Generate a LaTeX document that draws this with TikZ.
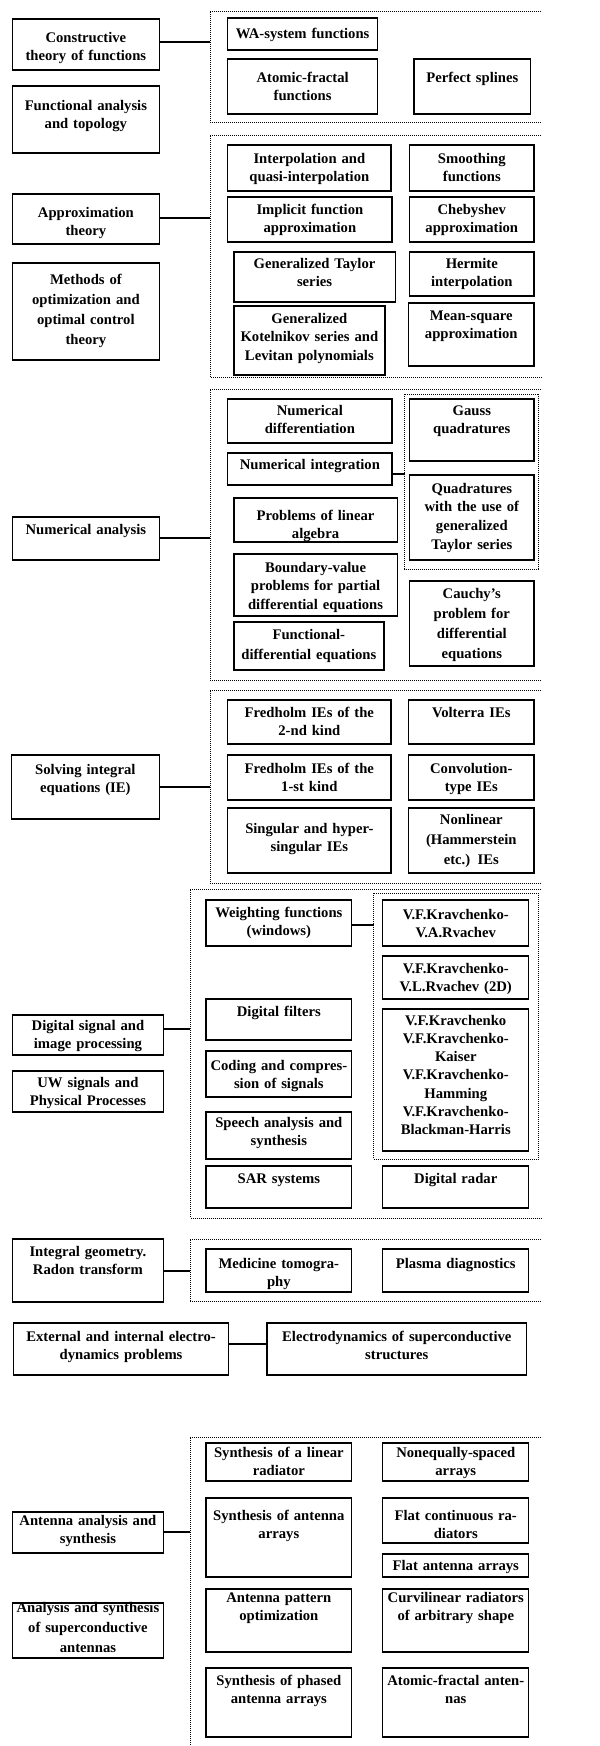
\documentclass[tikz,border=0pt]{standalone}
\usepackage{fontspec}
\setmainfont{Liberation Serif}
\usetikzlibrary{fit}
\tikzset{
  boxst/.style={draw, line width=1pt, inner sep=0pt, rectangle},
  txt/.style={anchor=base, text width=190pt, align=center, inner sep=0pt,
    font=\fontsize{11pt}{14.2pt}\selectfont\bfseries},
  wide/.style={font=\fontsize{11pt}{15.2pt}\selectfont\bfseries},
  tight/.style={font=\fontsize{11pt}{13.7pt}\selectfont\bfseries},
  dotframe/.style={line width=0.75pt, dash pattern=on 0.75pt off 0.75pt},
  conn/.style={line width=0.9pt},
}
\newcommand\bx[8][]{%
  \node[boxst, fit={(#3,#4) (#5,#6)}] (#2) {};
  \node[txt,#1] (#2-t) at ({(#3+#5)/2},#7) {#8};
}
\begin{document}
\begin{tikzpicture}[x=0.776pt,y=-0.75pt]
\useasboundingbox (0,0) rectangle (579.7,1746);
% ---------------- dotted frames
\draw[dotframe] (523,11) -- (203,11) -- (203,122) -- (523,122);
\draw[dotframe] (523,135) -- (203,135) -- (203,377) -- (523,377);
\draw[dotframe] (523,389) -- (203,389) -- (203,680) -- (523,680);
\draw[dotframe] (391,394) rectangle (520,569);
\draw[dotframe] (523,690) -- (203,690) -- (203,883) -- (523,883);
\draw[dotframe] (523,889) -- (184,889) -- (184,1218) -- (523,1218);
\draw[dotframe] (361,893) rectangle (520,1159);
\draw[dotframe] (523,1239) -- (184,1239) -- (184,1301) -- (523,1301);
\draw[dotframe] (523,1437) -- (184,1437) -- (184,1746);
% ---------------- left column
\bx{const}{12}{19}{154}{70}{42}{Constructive\\theory of functions}
\bx{funan}{12}{86}{154}{153}{110}{Functional analysis\\and topology}
\bx{approx}{12}{194}{154}{244}{217}{Approximation\\theory}
\bx[wide]{optim}{12}{263}{154}{360}{284}{Methods of\\optimization and\\optimal control\\theory}
\bx{numan}{12}{517}{154}{560}{534}{Numerical analysis}
\bx{solve}{11}{755}{154}{819}{774}{Solving integral\\equations (IE)}
\bx{dsp}{12}{1015}{158}{1055}{1030}{Digital signal and\\image processing}
\bx{uw}{12}{1071}{158}{1112}{1087}{UW signals and\\Physical Processes}
\bx{radon}{12}{1239}{158}{1302}{1256}{Integral geometry.\\Radon transform}
\bx{extint}{13}{1323}{221}{1375}{1341}{External and internal electro-\\dynamics problems}
\bx{elsup}{258}{1323}{509}{1375}{1341}{Electrodynamics of superconductive\\structures}
\bx{antsyn}{12}{1512}{158}{1553}{1525}{Antenna analysis and\\synthesis}
\bx[wide]{supant}{12}{1603}{158}{1658}{1612}{Analysis and synthesis\\of superconductive\\antennas}
% ---------------- group 1
\bx{wa}{220}{18}{365}{50}{38}{WA-system functions}
\bx{atfr}{220}{59}{365}{114}{82}{Atomic-fractal\\functions}
\bx{perf}{400}{59}{513}{114}{82}{Perfect splines}
% ---------------- group 2
\bx{interp}{220}{145}{378}{191}{163}{Interpolation and\\quasi-interpolation}
\bx{smooth}{396}{145}{516}{191}{163}{Smoothing\\functions}
\bx{implic}{220}{197}{379}{242}{214}{Implicit function\\approximation}
\bx{cheb}{396}{197}{516}{242}{214}{Chebyshev\\approximation}
\bx{gtaylor}{226}{252}{382}{302}{268}{Generalized Taylor\\series}
\bx{hermite}{396}{252}{516}{296}{268}{Hermite\\interpolation}
\bx{kotel}{226}{306}{372}{375}{323}{Generalized\\Kotelnikov series and\\Levitan polynomials}
\bx{mean}{395}{303}{516}{366}{320}{Mean-square\\approximation}
% ---------------- group 3
\bx{numdiff}{220}{399}{379}{443}{415}{Numerical\\differentiation}
\bx{gauss}{396}{399}{516}{461}{415}{Gauss\\quadratures}
\bx{numint}{220}{453}{379}{485}{469}{Numerical integration}
\bx{quad}{396}{475}{516}{560}{493}{Quadratures\\with the use of\\generalized\\Taylor series}
\bx{linalg}{226}{498}{384}{542}{520}{Problems of linear\\algebra}
\bx{bvp}{226}{554}{384}{616}{572}{Boundary-value\\problems for partial\\differential equations}
\bx[wide]{cauchy}{396}{581}{516}{666}{598}{Cauchy’s\\problem for\\differential\\equations}
\bx[wide]{fde}{226}{622}{371}{670}{639}{Functional-\\differential equations}
% ---------------- group 4
\bx{fr2}{220}{700}{378}{744}{717}{Fredholm IEs of the\\2-nd kind}
\bx{volt}{395}{700}{516}{744}{717}{Volterra IEs}
\bx{fr1}{220}{755}{378}{800}{773}{Fredholm IEs of the\\1-st kind}
\bx{conv}{395}{755}{516}{800}{773}{Convolution-\\type IEs}
\bx{sing}{220}{808}{378}{873}{833}{Singular and hyper-\\singular IEs}
\bx[wide]{nonlin}{395}{808}{516}{873}{824}{Nonlinear\\(Hammerstein\\etc.) IEs}
% ---------------- group 5
\bx{weight}{199}{900}{340}{946}{917}{Weighting functions\\(windows)}
\bx{kr1}{370}{900}{511}{946}{919}{V.F.Kravchenko-\\V.A.Rvachev}
\bx{kr2}{370}{956}{511}{999}{973}{V.F.Kravchenko-\\V.L.Rvachev (2D)}
\bx{filt}{199}{999}{340}{1040}{1016}{Digital filters}
\bx[tight]{kr3}{370}{1009}{511}{1151}{1025}{V.F.Kravchenko\\V.F.Kravchenko-\\Kaiser\\V.F.Kravchenko-\\Hamming\\V.F.Kravchenko-\\Blackman-Harris}
\bx{coding}{199}{1051}{340}{1097}{1070}{Coding and compres-\\sion of signals}
\bx{speech}{199}{1112}{340}{1159}{1127}{Speech analysis and\\synthesis}
\bx{sar}{199}{1166}{340}{1208}{1183}{SAR systems}
\bx{radar}{370}{1166}{511}{1208}{1183}{Digital radar}
% ---------------- group 6
\bx{medtom}{199}{1249}{340}{1292}{1268}{Medicine tomogra-\\phy}
\bx{plasma}{370}{1249}{511}{1292}{1268}{Plasma diagnostics}
% ---------------- group 7
\bx{linrad}{199}{1443}{340}{1481}{1457}{Synthesis of a linear\\radiator}
\bx{noneq}{370}{1443}{511}{1481}{1457}{Nonequally-spaced\\arrays}
\bx{antarr}{199}{1498}{340}{1577}{1520}{Synthesis of antenna\\arrays}
\bx{flatc}{370}{1498}{511}{1543}{1520}{Flat continuous ra-\\diators}
\bx{flata}{370}{1554}{511}{1577}{1570}{Flat antenna arrays}
\bx{pattern}{199}{1589}{340}{1652}{1602}{Antenna pattern\\optimization}
\bx{curv}{370}{1589}{511}{1652}{1602}{Curvilinear radiators\\of arbitrary shape}
\bx{phased}{199}{1668}{340}{1737}{1685}{Synthesis of phased\\antenna arrays}
\bx{atant}{370}{1668}{511}{1737}{1685}{Atomic-fractal anten-\\nas}
% ---------------- connectors
\coordinate (c1) at (203,42);
\coordinate (c2) at (203,218);
\coordinate (c3) at (203,538);
\coordinate (c4) at (391,474);
\coordinate (c5) at (203,787);
\coordinate (c6) at (184,1029);
\coordinate (c7) at (361,925);
\coordinate (c8) at (184,1271);
\coordinate (c9) at (240,1344);
\coordinate (c10) at (184,1532);
\draw[conn] (const.east |- c1) -- (c1);
\draw[conn] (approx.east |- c2) -- (c2);
\draw[conn] (numan.east |- c3) -- (c3);
\draw[conn] (numint.east |- c4) -- (c4);
\draw[conn] (solve.east |- c5) -- (c5);
\draw[conn] (dsp.east |- c6) -- (c6);
\draw[conn] (weight.east |- c7) -- (c7);
\draw[conn] (radon.east |- c8) -- (c8);
\draw[conn] (extint.east |- c9) -- (elsup.west |- c9);
\draw[conn] (antsyn.east |- c10) -- (c10);
\end{tikzpicture}
\end{document}
